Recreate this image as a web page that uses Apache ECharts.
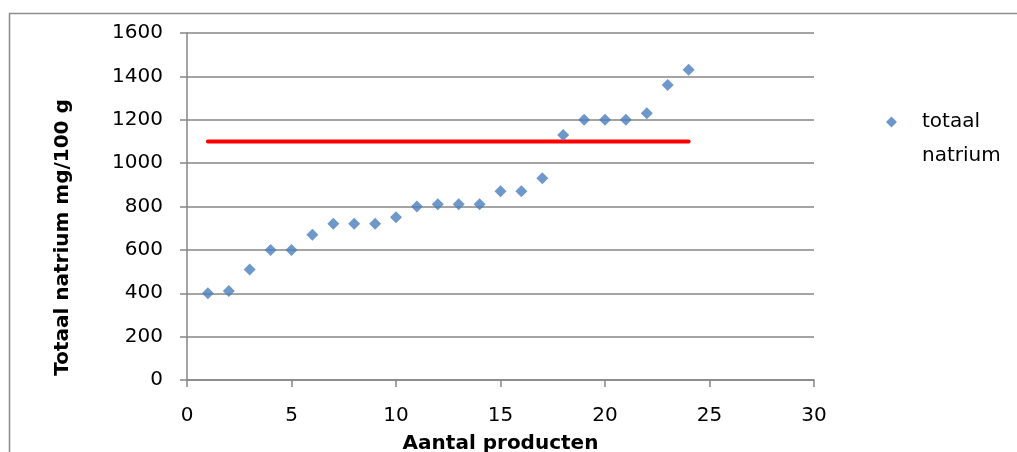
<!DOCTYPE html>
<html><head><meta charset="utf-8">
<script src="https://cdn.jsdelivr.net/npm/echarts@6/dist/echarts.min.js"></script>
<style>html,body{margin:0;padding:0;background:#fff}#c{width:1017px;height:452px}</style>
</head><body><div id="c"></div>
<script>
const products = [1,2,3,4,5,6,7,8,9,10,11,12,13,14,15,16,17,18,19,20,21,22,23,24];
const natrium = [400,410,510,600,600,670,720,720,720,750,800,810,810,810,870,870,930,1130,1200,1200,1200,1230,1360,1430];
const limitX = [1,24];
const limitY = [1100,1100];
const seriesName = 'totaal natrium';
const xTitle = 'Aantal producten';
const yTitle = 'Totaal natrium mg/100 g';

const font = 'DejaVu Sans';
const chart = echarts.init(document.getElementById('c'));
chart.setOption({
  animation:false,
  textStyle:{fontFamily:font},
  graphic:[{type:'rect',shape:{x:9.5,y:13.5,width:1100,height:500},style:{fill:'none',stroke:'#8c8c8c',lineWidth:1.5},silent:true}],
  grid:{left:187,right:203,top:33,bottom:72,containLabel:false,outerBoundsMode:'none'},
  legend:{data:[seriesName],left:881,top:100,orient:'vertical',
    icon:'path://M5,0L10,5L5,10L0,5Z M5,41L5.001,41',itemWidth:11,itemHeight:45,itemGap:10,
    formatter:function(){return 'totaal\nnatrium';},
    textStyle:{fontSize:20,color:'#000',fontFamily:font,lineHeight:34,padding:[0,0,0,20]}},
  xAxis:{type:'value',min:0,max:30,interval:5,name:xTitle,nameLocation:'middle',nameGap:54,
    nameTextStyle:{fontSize:20,fontWeight:'bold',color:'#000',fontFamily:font},
    axisLine:{show:true,lineStyle:{color:'#868686',width:1.5}},
    axisTick:{show:true,length:7,lineStyle:{color:'#868686',width:1.5}},
    axisLabel:{fontSize:20,color:'#000',margin:26,fontFamily:font},
    splitLine:{show:false}},
  yAxis:{type:'value',min:0,max:1600,interval:200,name:yTitle,nameLocation:'middle',nameGap:114,
    nameTextStyle:{fontSize:20,fontWeight:'bold',color:'#000',fontFamily:font,padding:[0,62,0,0]},
    axisLine:{show:true,lineStyle:{color:'#868686',width:1.5}},
    axisTick:{show:true,length:7,lineStyle:{color:'#868686',width:1.5}},
    axisLabel:{fontSize:20,color:'#000',margin:24,fontFamily:font,formatter:function(v){return String(v);}},
    splitLine:{show:true,lineStyle:{color:'#868686',width:1.5}}},
  series:[
    {name:'limit',type:'line',data:limitX.map((x,i)=>[x,limitY[i]]),symbol:'none',
      lineStyle:{color:'#ff0000',width:4,cap:'round'},z:2},
    {name:seriesName,type:'scatter',data:products.map((x,i)=>[x,natrium[i]]),symbol:'diamond',symbolSize:12,
      itemStyle:{color:'#4a7ebb'},z:3}
  ]
});
</script></body></html>
